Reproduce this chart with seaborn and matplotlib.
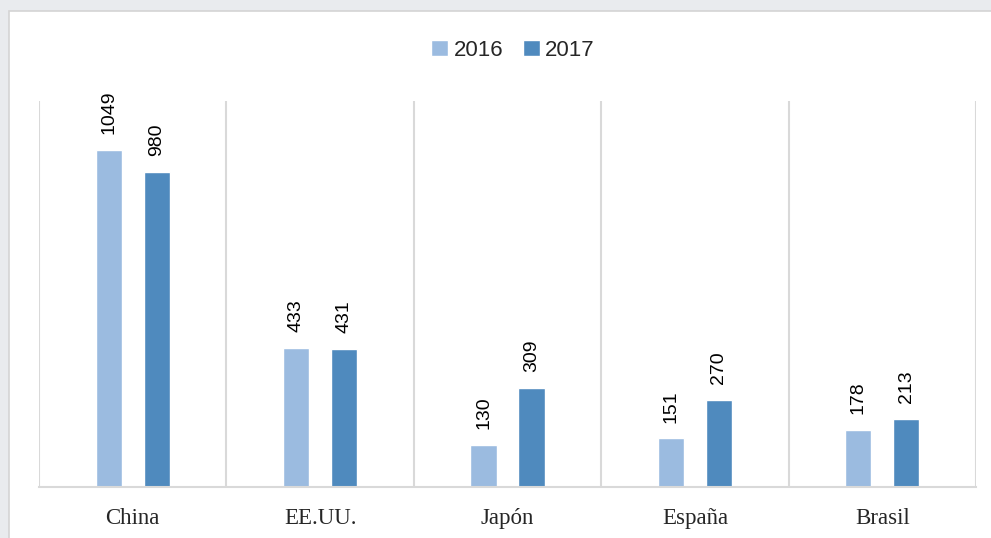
import matplotlib
matplotlib.use('Agg')
import matplotlib.pyplot as plt
from matplotlib.patches import Rectangle
import numpy as np
import pandas as pd
import seaborn as sns

# Data
paises = ['China', 'EE.UU.', 'Japón', 'España', 'Brasil']
valores_2016 = [1049, 433, 130, 151, 178]
valores_2017 = [980, 431, 309, 270, 213]
anios = ['2016', '2017']

df = pd.DataFrame({
    'pais': paises * 2,
    'anio': [anios[0]] * len(paises) + [anios[1]] * len(paises),
    'valor': valores_2016 + valores_2017,
})

colores = {'2016': '#9BBBE0', '2017': '#4F8ABE'}

sns.set_style('white')
plt.rcParams['font.family'] = ['Liberation Sans', 'DejaVu Sans']

fig = plt.figure(figsize=(9.91, 5.38), dpi=100, facecolor='#e9ebee')
# white chart area with thin grey border (left and top)
fig.patches.append(Rectangle((9 / 991, -0.01), 1.0, 1 - 11 / 538 + 0.01,
                             transform=fig.transFigure, facecolor='white',
                             edgecolor='#d4d4d4', linewidth=1.2, zorder=-5))

ax = fig.add_axes([39 / 991, 1 - 487 / 538, (976 - 39) / 991, (487 - 101.4) / 538])
ax.set_zorder(2)
ax.set_facecolor('none')

sns.barplot(data=df, x='pais', y='valor', hue='anio', palette=colores,
            width=0.512, gap=0.457, ax=ax, saturation=1, legend=True)

ax.set_ylim(0, 1200)
ax.set_xlim(-0.5, 4.5)
ax.set_yticks([])
ax.set(xlabel='', ylabel='')

# category separators
ax.set_xticks(np.arange(-0.5, 5, 1), minor=True)
ax.grid(which='minor', axis='x', color='#d9d9d9', linewidth=1.5)
ax.set_axisbelow(True)
ax.tick_params(axis='x', which='both', length=0, pad=15)
for lbl in ax.get_xticklabels():
    lbl.set_fontfamily(['Liberation Serif', 'DejaVu Serif'])
    lbl.set_fontsize(16.5)
ax.spines['top'].set_visible(False)
ax.spines['left'].set_visible(False)
ax.spines['right'].set_visible(False)
ax.spines['bottom'].set_color('#d9d9d9')
ax.spines['bottom'].set_linewidth(1.5)

for cont in ax.containers:
    ax.bar_label(cont, rotation=90, padding=11.5, fontsize=14, color='black')

leg = ax.legend(loc='center', bbox_to_anchor=(0.506, 1 + (101.4 - 50) / (487 - 101.4)),
                ncol=2, frameon=False, fontsize=16, handlelength=0.75,
                handleheight=0.75, handletextpad=0.25, columnspacing=0.9,
                borderaxespad=0)

fig.savefig('out.png', dpi=100, facecolor=fig.get_facecolor())
